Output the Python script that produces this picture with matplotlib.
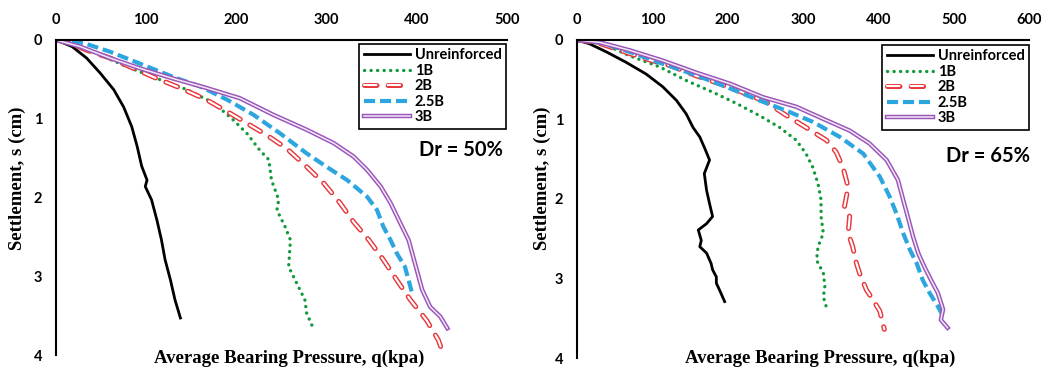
import matplotlib
matplotlib.use("Agg")
import matplotlib.pyplot as plt

plt.rcParams["lines.scale_dashes"] = False

# Dr = 50 %  (q in kPa, s in cm)
Q50_UNREINF = [0, 18, 34, 49, 64, 75, 84, 90, 95, 101, 99, 106, 112, 117, 121, 127, 132, 138]
S50_UNREINF = [0, 0.085, 0.23, 0.42, 0.63, 0.85, 1.1, 1.35, 1.6, 1.78, 1.86, 2.03, 2.29, 2.54, 2.79, 3.05, 3.3, 3.53]
Q50_1B = [0, 27, 49, 79, 112, 145, 175, 197, 212, 226, 236, 239, 247, 245, 254, 260, 258, 267, 276, 278, 286]
S50_1B = [0, 0.085, 0.19, 0.34, 0.49, 0.63, 0.8, 1.02, 1.19, 1.4, 1.52, 1.78, 2.03, 2.16, 2.37, 2.54, 2.88, 3.09, 3.3, 3.47, 3.68]
Q50_2B = [0, 12, 34, 60, 86, 112, 138, 167, 190, 212, 234, 256, 278, 297, 315, 330, 347, 363, 378, 393, 411, 424, 430]
S50_2B = [0, 0.02, 0.13, 0.23, 0.36, 0.49, 0.61, 0.76, 0.91, 1.06, 1.21, 1.38, 1.61, 1.82, 2.07, 2.31, 2.54, 2.79, 3.05, 3.3, 3.56, 3.81, 4.0]
Q50_25B = [0, 31, 60, 93, 130, 160, 190, 219, 249, 278, 300, 323, 345, 356, 363, 371, 378, 387, 391, 395]
S50_25B = [0, 0.04, 0.15, 0.3, 0.47, 0.59, 0.76, 0.95, 1.19, 1.44, 1.61, 1.78, 1.99, 2.16, 2.37, 2.54, 2.71, 2.88, 3.05, 3.22]
Q50_3B = [0, 27, 60, 93, 130, 167, 204, 241, 278, 308, 330, 345, 360, 371, 382, 391, 397, 402, 406, 415, 426, 434]
S50_3B = [0, 0.085, 0.23, 0.36, 0.49, 0.61, 0.74, 0.95, 1.14, 1.31, 1.48, 1.65, 1.86, 2.07, 2.33, 2.54, 2.79, 3.0, 3.17, 3.39, 3.51, 3.66]

# Dr = 65 %
Q65_UNREINF = [0, 17, 39, 65, 92, 114, 132, 145, 154, 163, 169, 176, 169, 172, 176, 180, 172, 161, 165, 163, 172, 178, 180, 185, 185, 189, 196]
S65_UNREINF = [0, 0.05, 0.15, 0.28, 0.43, 0.59, 0.76, 0.93, 1.1, 1.22, 1.35, 1.51, 1.68, 1.89, 2.06, 2.22, 2.31, 2.39, 2.52, 2.6, 2.68, 2.81, 2.89, 2.98, 3.06, 3.14, 3.29]
Q65_1B = [0, 35, 70, 110, 145, 181, 212, 242, 269, 291, 304, 313, 320, 324, 324, 327, 320, 318, 327, 329, 327, 332]
S65_1B = [0, 0.05, 0.2, 0.34, 0.51, 0.66, 0.8, 0.95, 1.1, 1.26, 1.43, 1.6, 1.81, 2.01, 2.22, 2.43, 2.6, 2.77, 2.93, 3.1, 3.23, 3.39]
Q65_2B = [0, 26, 57, 92, 123, 158, 189, 220, 251, 278, 304, 331, 344, 353, 360, 355, 362, 360, 366, 371, 375, 384, 393, 402, 408]
S65_2B = [0, 0.03, 0.13, 0.24, 0.32, 0.45, 0.55, 0.66, 0.78, 0.95, 1.1, 1.26, 1.41, 1.6, 1.85, 2.1, 2.22, 2.43, 2.6, 2.81, 2.93, 3.14, 3.27, 3.41, 3.64]
Q65_25B = [0, 30, 70, 114, 154, 198, 242, 278, 313, 349, 380, 402, 415, 424, 433, 442, 451, 459, 468, 479, 484]
S65_25B = [0, 0.03, 0.15, 0.3, 0.43, 0.59, 0.76, 0.89, 1.03, 1.22, 1.43, 1.72, 1.97, 2.18, 2.43, 2.64, 2.81, 3.02, 3.18, 3.35, 3.44]
Q65_3B = [0, 30, 70, 114, 158, 203, 247, 291, 331, 362, 388, 411, 426, 433, 439, 446, 453, 461, 470, 479, 486, 483, 492]
S65_3B = [0, 0.03, 0.13, 0.26, 0.41, 0.55, 0.72, 0.84, 1.01, 1.14, 1.3, 1.51, 1.76, 2.01, 2.22, 2.47, 2.68, 2.85, 3.02, 3.18, 3.39, 3.52, 3.62]

LABELS = ["Unreinforced", "1B", "2B", "2.5B", "3B"]
X_TICKS_50 = [0, 100, 200, 300, 400, 500]
X_TICKS_65 = [0, 100, 200, 300, 400, 500, 600]
Y_TICKS = [0, 1, 2, 3, 4]

SANS = ["Lato", "DejaVu Sans"]
SERIF = ["Liberation Serif", "DejaVu Serif"]


def draw_panel(ax, curves, xticks, dr_text, legend_anchor, dr_pos, xlabel_pos, ylabel_pos):
    (qu, su), (q1, s1), (q2, s2), (q25, s25), (q3, s3) = curves

    h_un, = ax.plot(qu, su, color="black", lw=2.0)
    h_1b, = ax.plot(q1, s1, color="#109A3A", lw=2.4, dashes=(0.1, 4.6), dash_capstyle="round")
    # hollow dashes: thick red dash with a thin white dash on top
    h_2b_o, = ax.plot(q2, s2, color="#E8383D", lw=3.6, dashes=(9, 8), dash_capstyle="round")
    h_2b_i, = ax.plot(q2, s2, color="white", lw=1.5, dashes=(9, 8), dash_capstyle="round")
    h_25b, = ax.plot(q25, s25, color="#2DA6E0", lw=3.0, dashes=(8, 3.5))
    # double line
    h_3b_o, = ax.plot(q3, s3, color="#9A55B8", lw=3.2)
    h_3b_i, = ax.plot(q3, s3, color="#F3E9F7", lw=1.1)

    ax.set_xlim(xticks[0], xticks[-1])
    ax.set_ylim(4, 0)
    tick_font = {"fontfamily": SANS, "fontweight": "bold", "fontsize": 10.5}
    ax.set_xticks(xticks, labels=[str(v) for v in xticks], **tick_font)
    ax.set_yticks(Y_TICKS, labels=[str(v) for v in Y_TICKS], **tick_font)
    ax.xaxis.tick_top()
    ax.tick_params(axis="x", length=0, pad=9)
    ax.tick_params(axis="y", length=0, pad=10)

    for side in ["right", "bottom"]:
        ax.spines[side].set_visible(False)
    for side in ["left", "top"]:
        ax.spines[side].set_linewidth(1.5)

    ax.text(xlabel_pos[0], xlabel_pos[1], "Average Bearing Pressure, q(kpa)", transform=ax.transAxes,
            ha="center", va="center", fontsize=13.5, fontweight="bold", family=SERIF)
    ax.text(ylabel_pos[0], ylabel_pos[1], "Settlement, s (cm)", transform=ax.transAxes,
            ha="center", va="center", rotation=90, fontsize=13.5, fontweight="bold", family=SERIF)
    ax.text(dr_pos[0], dr_pos[1], dr_text, transform=ax.transAxes,
            ha="center", va="center", fontsize=14.5, fontweight="bold", family=SANS)

    leg = ax.legend([h_un, h_1b, (h_2b_o, h_2b_i), h_25b, (h_3b_o, h_3b_i)], LABELS,
                    loc="upper right", bbox_to_anchor=legend_anchor, borderaxespad=0,
                    fancybox=False, edgecolor="black", framealpha=1,
                    prop={"family": SANS, "size": 10.5, "weight": "bold"},
                    handlelength=3.2, handletextpad=0.3, labelspacing=0.1, borderpad=0.3)
    leg.get_frame().set_linewidth(1.2)


fig = plt.figure(figsize=(10.56, 3.70), dpi=100)
ax1 = fig.add_axes([0.053, 0.0405, 0.427, 0.8515])
ax2 = fig.add_axes([0.5464, 0.0324, 0.428, 0.8596])

draw_panel(ax1,
           [(Q50_UNREINF, S50_UNREINF), (Q50_1B, S50_1B), (Q50_2B, S50_2B),
            (Q50_25B, S50_25B), (Q50_3B, S50_3B)],
           X_TICKS_50, "Dr = 50%", (0.998, 0.987), (0.898, 0.651), (0.517, -0.012), (-0.086, 0.562))
draw_panel(ax2,
           [(Q65_UNREINF, S65_UNREINF), (Q65_1B, S65_1B), (Q65_2B, S65_2B),
            (Q65_25B, S65_25B), (Q65_3B, S65_3B)],
           X_TICKS_65, "Dr = 65%", (1.0, 0.984), (0.909, 0.635), (0.538, 0.0), (-0.077, 0.566))

fig.savefig("out.png", dpi=100)
